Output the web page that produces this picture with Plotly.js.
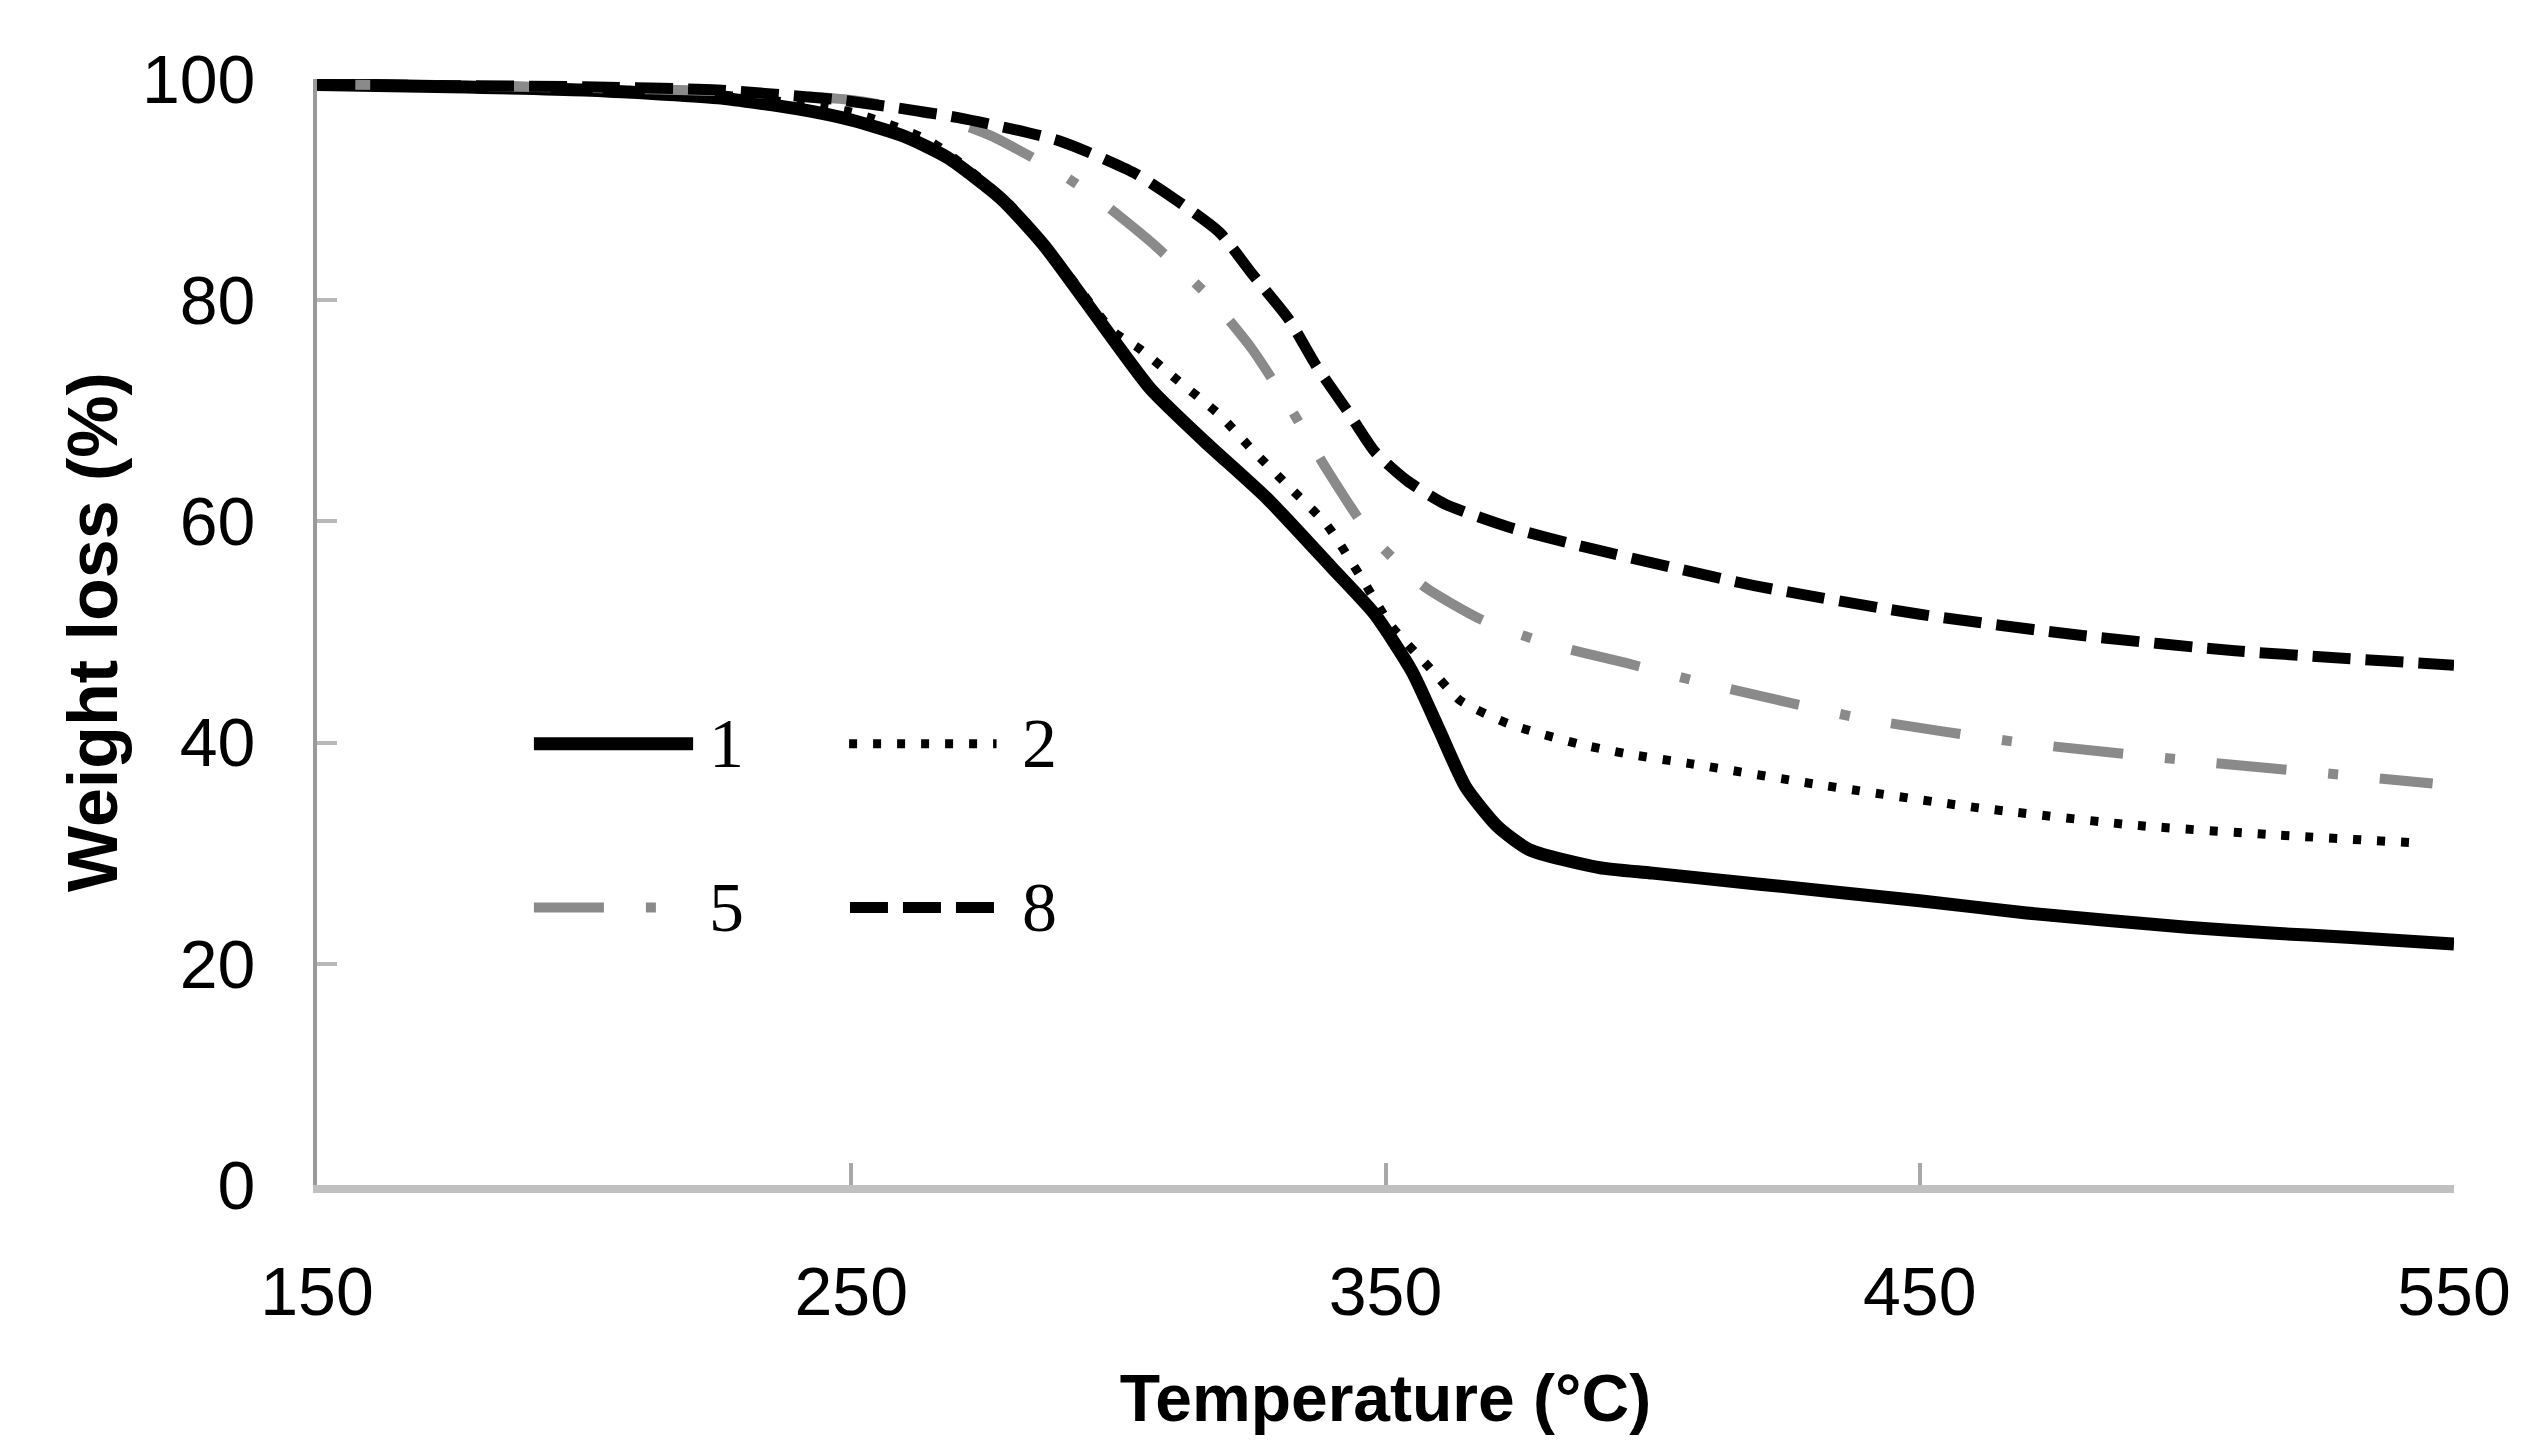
<!DOCTYPE html>
<html>
<head>
<meta charset="utf-8">
<title>TGA</title>
<script src="https://cdn.plot.ly/plotly-3.0.1.min.js"></script>
<style>
  html, body { margin: 0; padding: 0; background: #fff; }
  #plot { width: 2548px; height: 1456px; }
</style>
</head>
<body>
<div id="plot"></div>
<script>
// sample names
var names = ["1", "2", "5", "8"];

// temperature (°C) and weight (%)
var t1 = [150,175,200,225,240,250,260,268,278,286,297,306,316,328,340,348,355,360,365,371,377,390,400,420,450,470,500,515,530,550];
var w1 = [99.5,99.3,99.0,98.3,97.3,96.3,94.8,92.9,89.2,85.0,77.8,72.0,67.3,62.0,55.8,51.6,46.4,41.2,36.0,32.4,30.3,28.7,28.2,27.2,25.7,24.6,23.3,22.8,22.4,21.8];

var t2 = [150,175,200,225,250,265,280,290,299,304,311,319,325,332,339,346,351,358,364,373,386,395,407,431,461,491,515,544];
var w2 = [99.5,99.3,99.1,98.6,97.0,94.3,88.5,82.7,77.2,75.6,72.8,69.6,66.5,63.1,59.7,54.5,50.6,46.9,43.8,41.7,39.9,39.0,38.1,36.2,34.1,32.5,31.7,30.9];

var t5 = [150,175,200,225,250,265,276,289,296,306,317,325,332,339,347,357,368,380,395,407,439,469,500,531,546];
var w5 = [99.5,99.4,99.2,98.9,98.1,96.8,94.9,91.5,89.2,85.3,80.3,75.6,70.4,64.7,58.9,54.2,51.1,49.0,47.2,45.7,42.2,40.0,38.4,37.0,36.3];

var t8 = [150,175,200,225,248,270,289,303,311,319,325,332,337,343,348,354,361,373,388,419,450,480,509,550];
var w8 = [99.5,99.4,99.3,99.0,98.1,96.5,94.4,91.5,89.0,86.1,82.4,78.2,74.1,69.9,66.3,63.7,61.6,59.5,57.6,54.2,51.6,49.7,48.3,47.0];

var xTicks = [150, 250, 350, 450, 550];
var yTicks = [0, 20, 40, 60, 80, 100];

var styles = [
  {color: "#000000", width: 13, dash: "solid"},
  {color: "#000000", width: 9, dash: "8px,16px"},
  {color: "#8a8a8a", width: 10, dash: "70px,42px,10px,42px"},
  {color: "#000000", width: 11, dash: "38px,15px"}
];
var xs = [t1, t2, t5, t8];
var ys = [w1, w2, w5, w8];

var data = [];
for (var i = 0; i < names.length; i++) {
  data.push({
    x: xs[i], y: ys[i], name: names[i],
    type: "scatter", mode: "lines",
    line: {color: styles[i].color, width: styles[i].width, dash: styles[i].dash, shape: "spline", smoothing: 0.6},
    showlegend: false
  });
}

// hand-made 2x2 legend (long line samples like the original)
var legPos = [
  {x0: 0.1015, x1: 0.176, y: 0.399, tx: 0.1914},
  {x0: 0.249, x1: 0.318, y: 0.399, tx: 0.3383},
  {x0: 0.1015, x1: 0.1717, y: 0.251, tx: 0.1914},
  {x0: 0.2494, x1: 0.318, y: 0.251, tx: 0.3383}
];
var shapes = [];
var annotations = [];
for (var j = 0; j < names.length; j++) {
  shapes.push({
    type: "line", xref: "paper", yref: "paper",
    x0: legPos[j].x0, x1: legPos[j].x1, y0: legPos[j].y, y1: legPos[j].y,
    line: {color: styles[j].color, width: styles[j].width, dash: styles[j].dash}
  });
  annotations.push({
    xref: "paper", yref: "paper", x: legPos[j].tx, y: legPos[j].y,
    text: names[j], showarrow: false, xanchor: "center", yanchor: "middle",
    font: {family: "Liberation Serif, Times New Roman, serif", size: 70, color: "#000"}
  });
}

var layout = {
  width: 2548, height: 1456,
  margin: {l: 317, r: 94, t: 79, b: 271},
  paper_bgcolor: "#fff", plot_bgcolor: "#fff",
  font: {family: "Liberation Sans, Arial, sans-serif", color: "#000"},
  xaxis: {
    range: [150, 550], tickvals: xTicks, ticktext: xTicks.map(String),
    showgrid: false, zeroline: false,
    showline: true, linecolor: "#c0c0c0", linewidth: 8,
    ticks: "inside", ticklen: 22, tickwidth: 4, tickcolor: "#a8a8a8",
    ticklabelstandoff: 40,
    tickfont: {size: 68, color: "#000"},
    title: {text: "Temperature (°C)", standoff: 50,
            font: {family: "Liberation Sans, Arial, sans-serif", size: 66, weight: "bold", color: "#000"}}
  },
  yaxis: {
    range: [0, 100], tickvals: yTicks, ticktext: yTicks.map(String),
    showgrid: false, zeroline: false,
    showline: true, linecolor: "#9a9a9a", linewidth: 4,
    ticks: "inside", ticklen: 20, tickwidth: 4, tickcolor: "#b8b8b8",
    ticklabelstandoff: 44,
    tickfont: {size: 68, color: "#000"},
    title: {text: "Weight loss (%)", standoff: 2,
            font: {family: "Liberation Sans, Arial, sans-serif", size: 70, weight: "bold", color: "#000"}}
  },
  shapes: shapes,
  annotations: annotations
};

Plotly.newPlot("plot", data, layout, {staticPlot: true});
</script>
</body>
</html>
